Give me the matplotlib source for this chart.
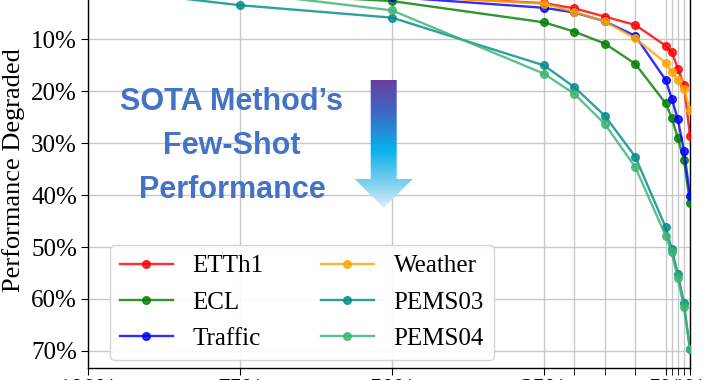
import numpy as np
import matplotlib
matplotlib.use("Agg")
import matplotlib.pyplot as plt
from matplotlib.colors import LinearSegmentedColormap
from matplotlib.patches import Polygon

# ---- data ----
data_ratio = [100, 75, 50, 25, 20, 15, 10, 5, 4, 3, 2, 1]
major_x = [100, 75, 50, 25, 5, 1]
major_x_labels = ["100%", "75%", "50%", "25%", "5%", "1%"]
minor_x = [20, 15, 10, 4, 3, 2]
y_ticks = [0, 10, 20, 30, 40, 50, 60, 70]
y_labels = ["0%", "10%", "20%", "30%", "40%", "50%", "60%", "70%"]

etth1 = [0, 0.5, 1.5, 3.0, 4.0, 5.6, 7.2, 11.2, 12.4, 15.6, 18.7, 28.6]
weather = [0, 0.5, 1.5, 3.1, 4.7, 6.5, 9.8, 14.5, 16.3, 17.9, 19.6, 23.5]
traffic = [0, 0.8, 1.8, 3.9, 4.8, 6.5, 9.3, 17.8, 21.4, 25.4, 31.4, 40.1]
ecl = [0, 1.0, 2.6, 6.7, 8.5, 10.8, 14.7, 22.3, 25.1, 29.0, 33.2, 41.6]
pems03 = [0, 3.4, 5.8, 15.0, 19.2, 24.7, 32.6, 46.2, 50.4, 55.1, 60.8, 69.7]
pems04 = [0, 0.9, 4.4, 16.6, 20.5, 26.3, 34.6, 47.8, 51.0, 56.0, 61.6, 69.7]

series_names = ["ETTh1", "ECL", "Traffic", "Weather", "PEMS03", "PEMS04"]
series_values = [etth1, ecl, traffic, weather, pems03, pems04]
series_colors = ["red", "green", "blue", "orange", "#008B8B", "#3CB371"]

plt.rcParams["font.family"] = ["Liberation Serif", "DejaVu Serif"]

W, H = 720, 380
fig = plt.figure(figsize=(7.2, 3.8), dpi=100)

# axes geometry in pixels
left_px, right_px = 88, 690
bottom_px = 368
ylim_bottom, ylim_top = 73.3, -3.0
px_per_pct = (350.7 - 39.3) / 60.0
top_px = bottom_px - (ylim_bottom - ylim_top) * px_per_pct
ax = fig.add_axes([left_px / W, (H - bottom_px) / H,
                   (right_px - left_px) / W, (bottom_px - top_px) / H])

for name, vals, col in zip(series_names, series_values, series_colors):
    ax.plot(data_ratio, vals, color=col, lw=1.7, alpha=0.82,
            marker="o", markersize=5.5, markerfacecolor=col,
            markeredgecolor=col, label=name, zorder=3)

ax.set_xlim(100, 1)
ax.set_ylim(ylim_bottom, ylim_top)
ax.set_xticks(major_x)
ax.set_xticklabels(major_x_labels)
ax.set_xticks(minor_x, minor=True)
ax.set_yticks(y_ticks)
ax.set_yticklabels(y_labels)
ax.tick_params(axis="both", which="major", labelsize=18, length=5, pad=3)
ax.tick_params(axis="x", which="minor", length=5)
ax.grid(True, which="both", axis="x", color="#c8c8c8", lw=1.0, zorder=0)
ax.grid(True, which="major", axis="y", color="#c8c8c8", lw=1.0, zorder=0)
ax.set_axisbelow(True)
ax.set_ylabel("Performance Degraded", fontsize=19, labelpad=4)
for s in ax.spines.values():
    s.set_color("black")
    s.set_linewidth(1.0)

ax_w = right_px - left_px
ax_h = bottom_px - top_px
leg = ax.legend(ncol=2, loc="lower left",
                bbox_to_anchor=((110 - left_px) / ax_w, (bottom_px - 360) / ax_h),
                borderaxespad=0, fontsize=18, handlelength=2.1,
                handletextpad=0.8, columnspacing=2.3, labelspacing=0.55,
                frameon=True, fancybox=True, framealpha=0.9,
                edgecolor="#d0d0d0", borderpad=0.4)
leg.set_zorder(5)

# ---- overlay for annotation ----
ov = fig.add_axes([0, 0, 1, 1])
ov.set_xlim(0, W)
ov.set_ylim(H, 0)
ov.axis("off")
ov.patch.set_alpha(0)

txt_color = "#4472C4"
for line, yy in zip(["SOTA Method\u2019s", "Few-Shot", "Performance"], [102, 146, 190]):
    ov.text(232, yy, line, ha="center", va="center", fontsize=22,
            fontweight="bold", color=txt_color,
            family=["Liberation Sans", "DejaVu Sans"])

cx = 383.7
shaft_half = 13
head_half = 29
top_y, head_y, tip_y = 80, 179, 208
arrow_pts = [(cx - shaft_half, top_y), (cx + shaft_half, top_y),
             (cx + shaft_half, head_y), (cx + head_half, head_y),
             (cx, tip_y), (cx - head_half, head_y), (cx - shaft_half, head_y)]
cmap = LinearSegmentedColormap.from_list(
    "arr", [(0, "#6B3FA0"), (0.25, "#3C68C4"), (0.55, "#08B2EC"),
            (0.8, "#7CCFEE"), (1.0, "#DCEFF7")])
grad = np.linspace(0, 1, 256).reshape(-1, 1)
im = ov.imshow(grad, cmap=cmap, aspect="auto",
               extent=(cx - head_half, cx + head_half, tip_y, top_y),
               origin="upper", zorder=6)
poly = Polygon(arrow_pts, closed=True, facecolor="none", edgecolor="none",
               transform=ov.transData)
ov.add_patch(poly)
im.set_clip_path(poly)
ov.set_xlim(0, W)
ov.set_ylim(H, 0)

fig.savefig("out.png", dpi=100)
